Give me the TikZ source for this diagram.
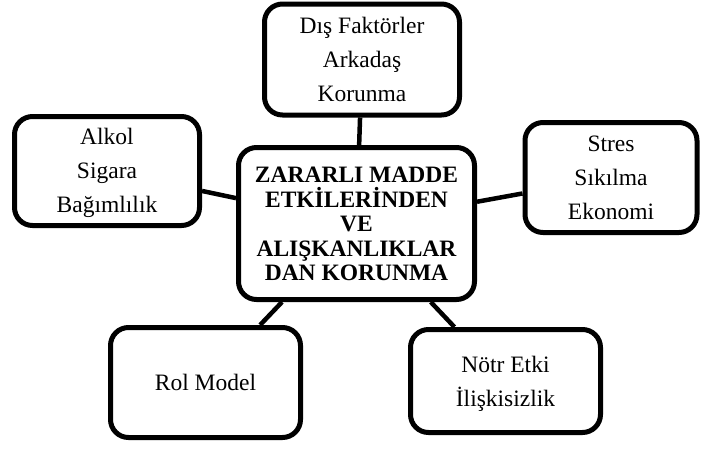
\documentclass[tikz,border=0pt]{standalone}
\usepackage{fontspec}
\setmainfont{Liberation Serif}
\newcommand\boxtop{\rule{0pt}{21pt}}
\newcommand\boxbot{\rule[-5pt]{0pt}{5pt}}

\begin{document}
\begin{tikzpicture}[x=1pt,y=-1pt,
  box/.style={draw,line width=5pt,rounded corners=18pt,inner sep=0pt,
    align=center,font=\fontsize{23.5}{34}\selectfont},
  hub/.style={box,font=\fontsize{23.5}{24.5}\selectfont\bfseries},
  link/.style={line width=4.5pt}]
\useasboundingbox (0,0) rectangle (701,448);
\path (356.5,223.5) node[hub,minimum width=236pt,minimum height=152pt] (ctr)
  {\boxtop ZARARLI MADDE\\ETKİLERİNDEN\\VE\\ALIŞKANLIKLAR\\DAN KORUNMA\boxbot}
(362,59.5) node[box,minimum width=195pt,minimum height=111pt] (dis)
  {\boxtop Dış Faktörler\\Arkadaş\\Korunma\boxbot}
(107,171) node[box,minimum width=185pt,minimum height=109pt] (alkol)
  {\boxtop Alkol\\Sigara\\Bağımlılık\boxbot}
(611,177.5) node[box,minimum width=172pt,minimum height=110pt] (stres)
  {\boxtop Stres\\Sıkılma\\Ekonomi\boxbot}
(205.5,382.5) node[box,minimum width=190pt,minimum height=110pt] (rol)
  {\boxtop Rol Model\boxbot}
(505.5,381) node[box,minimum width=190pt,minimum height=103pt] (notr)
  {\boxtop Nötr Etki\\İlişkisizlik\boxbot};
\draw[link] (ctr) -- (dis)
(ctr) -- (alkol)
(ctr) -- (stres)
(ctr) -- (rol)
(ctr) -- (notr);
\end{tikzpicture}
\end{document}
